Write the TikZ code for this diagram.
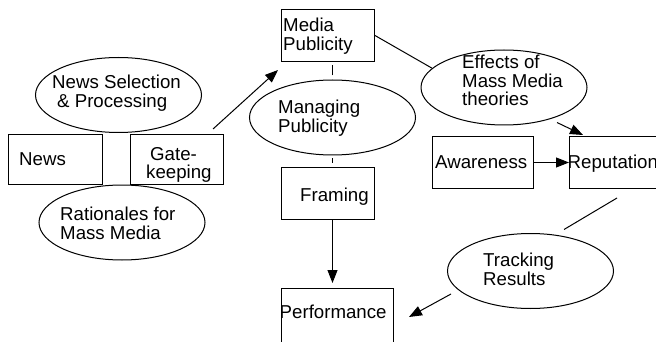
\documentclass[tikz,border=0pt]{standalone}
\usepackage{fontspec}
\setmainfont{Liberation Sans}
\usetikzlibrary{arrows.meta,shapes.geometric}
\begin{document}
\begin{tikzpicture}[x=1pt,y=-1pt,
  box/.style={draw, line width=1pt, rectangle, inner sep=0pt, anchor=north west},
  oval/.style={draw, line width=1pt, ellipse, inner sep=0pt,
    minimum width=166pt, minimum height=75pt},
  lbl/.style={inner sep=0pt, anchor=north west, align=left,
    font=\fontsize{18.67}{18.5}\selectfont},
  link/.style={line width=1pt},
  arr/.style={line width=1pt, -{Triangle[length=13pt,width=10pt]}},
]
\useasboundingbox (0,0) rectangle (656,342);
\clip (0,0) rectangle (656,342);

% boxes
\node[box, minimum width=94pt, minimum height=50pt] (news) at (8,134) {};
\node[box, minimum width=93pt, minimum height=50pt] (gate) at (130,134) {};
\node[box, minimum width=93pt, minimum height=52pt] (media) at (281,9) {};
\node[box, minimum width=93pt, minimum height=52pt] (framing) at (281,167) {};
\node[box, minimum width=112pt, minimum height=70pt] (perf) at (281,288) {};
\node[box, minimum width=101pt, minimum height=52pt] (aware) at (432,136) {};
\node[box, minimum width=110pt, minimum height=52pt] (rep) at (569,136) {};

% ellipses
\node[oval] (sel) at (118.5,95) {};
\node[oval] (rat) at (122,222.5) {};
\node[oval] (manage) at (332.5,117.5) {};
\node[oval] (effects) at (504,87.5) {};
\node[oval] (track) at (530.5,271) {};

% labels
\node[lbl] (news-t) at (19,152) {News};
\node[lbl] (gate-t) at (146,147) {\hspace*{4pt}Gate-\\keeping};
\node[lbl] (media-t) at (283,18) {Media\\Publicity};
\node[lbl] (framing-t) at (300,188) {Framing};
\node[lbl] (perf-t) at (279.5,305) {Performance};
\node[lbl] (aware-t) at (435,155) {Awareness};
\node[lbl] (rep-t) at (567.5,155) {Reputation};
\node[lbl] (sel-t) at (52,75) {News Selection\\\hspace*{5pt}\& Processing};
\node[lbl] (rat-t) at (60,207) {Rationales for\\Mass Media};
\node[lbl] (manage-t) at (278,100) {Managing\\Publicity};
\node[lbl] (effects-t) at (462,55) {Effects of\\Mass Media\\theories};
\node[lbl] (track-t) at (483,253) {Tracking\\Results};

% connectors
\draw[arr] ([shift={(-11,-5)}]gate.north east) -- ([shift={(-3,8)}]media.south west);
\draw[link] (media.east) -- (effects.165);
\draw[arr] ([shift={(53,35)}]effects.center) -- ([shift={(14,-1)}]rep.north west);
\draw[arr] (aware.east) -- (rep.west);
\draw[link] ([shift={(48,9)}]rep.south west) -- ([shift={(33.5,-3.5)}]track.north);
\draw[arr] ([shift={(4,23)}]track.west) -- ([shift={(15,29)}]perf.north east);
\draw[arr] (framing.south -| manage.south) -- ++(0,63);
\draw[link] ([shift={(0,-4)}]manage.north) -- ([shift={(0,-14)}]manage.north);
\draw[link] ([shift={(0,3)}]manage.south) -- ([shift={(0,8)}]manage.south);
\end{tikzpicture}
\end{document}
